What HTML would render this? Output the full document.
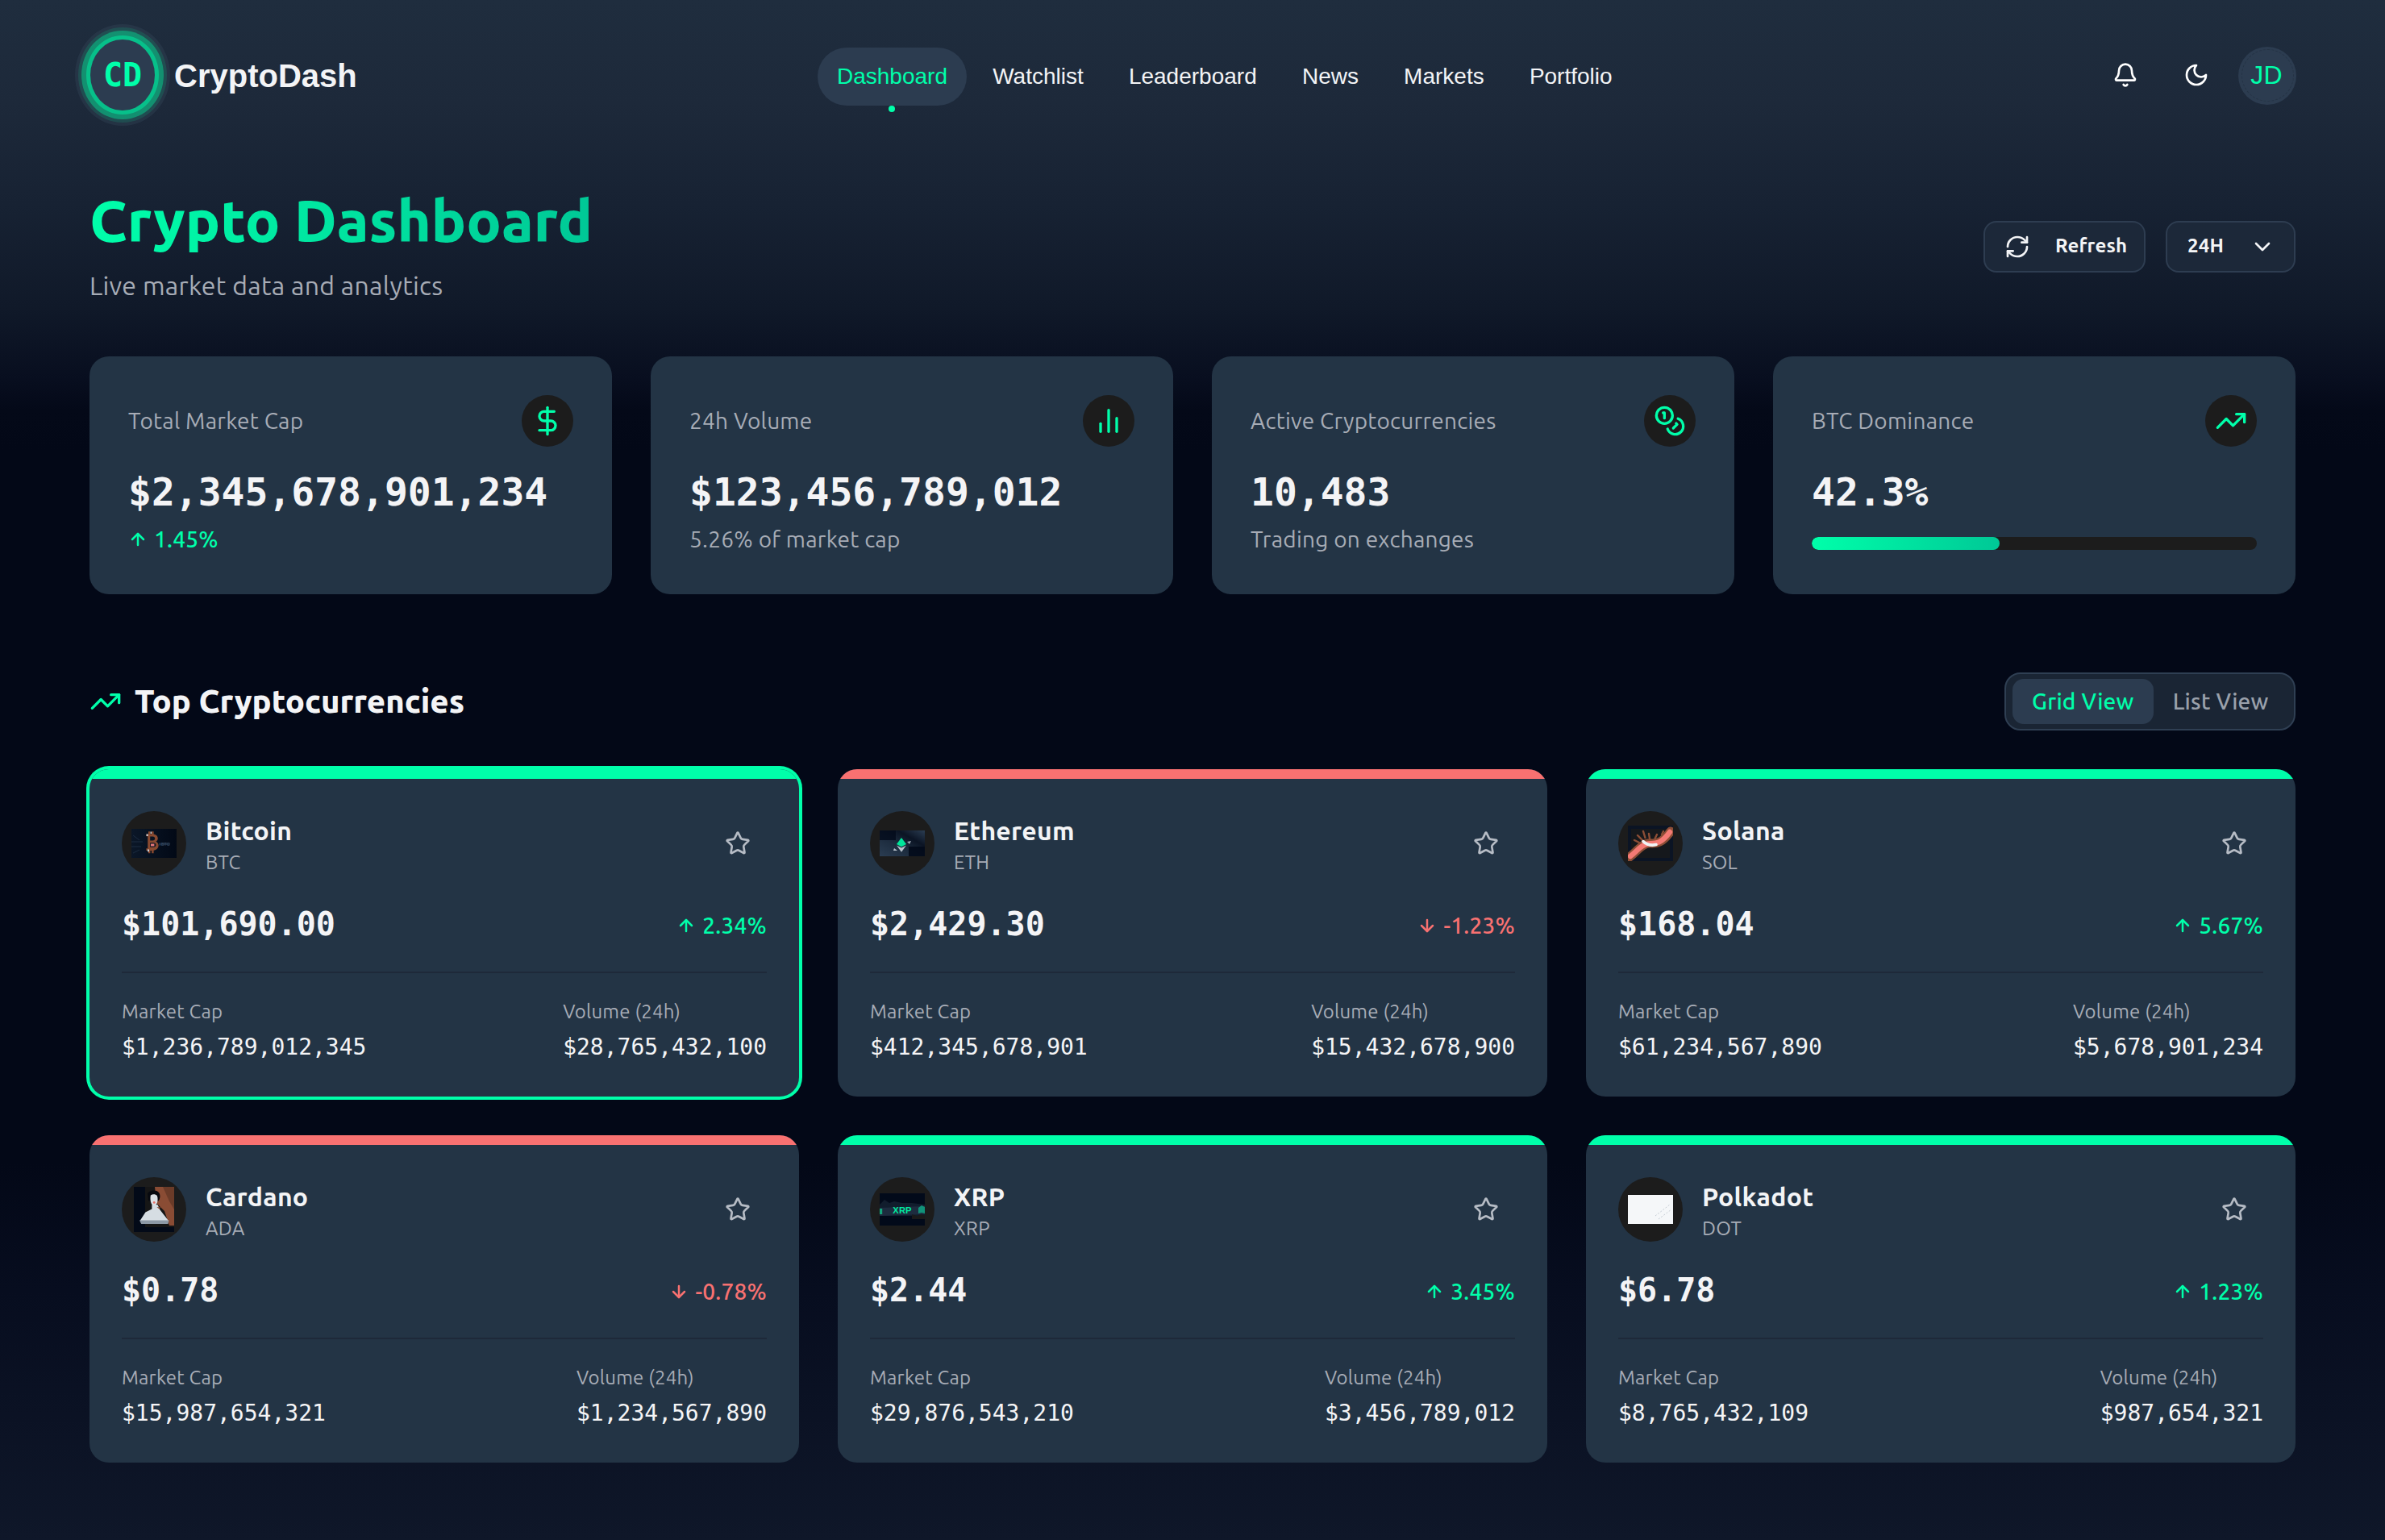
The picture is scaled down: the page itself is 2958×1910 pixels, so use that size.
<!DOCTYPE html>
<html lang="en">
<head>
<meta charset="utf-8">
<title>CryptoDash</title>
<style>
*{box-sizing:border-box;margin:0;padding:0;letter-spacing:.0085em}
div,span,a{white-space:nowrap}
html,body{width:1479px;height:955px;overflow:hidden}
body{
  font-family:"Ubuntu","Liberation Sans",sans-serif;
  color:#f3f4f6;
  background:linear-gradient(180deg,#1f2d3e 0px,#1d293a 64px,#172233 127px,#101929 191px,#080e1f 235px,#040918 255px,#030817 280px,#030817 720px,#070d1f 800px,#0f1729 955px);
  position:relative;
}
.mono,.mono *{font-family:"DejaVu Sans Mono","Liberation Mono",monospace;letter-spacing:0}
.sans{font-family:"Liberation Sans",Arial,sans-serif;letter-spacing:0}
.val,.pr,.bv,.brand,.nav,.nav *,.avatar,.logo,.logo *{letter-spacing:0}
.abs{position:absolute}
svg.i{display:block;fill:none;stroke:currentColor;stroke-width:2;stroke-linecap:round;stroke-linejoin:round}

/* header */
.logo{position:absolute;left:56px;top:24.25px;width:40px;height:44.4px;border-radius:50%;background:#2c3c50;
  box-shadow:0 0 0 2.5px rgba(0,225,155,.6),0 0 0 5.5px rgba(0,245,160,.4),0 0 0 7.5px rgba(0,245,160,.13),0 0 0 9.5px rgba(70,90,110,.22);
  display:flex;align-items:center;justify-content:center;color:#00ffaa;letter-spacing:0}
.brand{position:absolute;left:108px;top:35px;font:700 20px "Liberation Sans",Arial,sans-serif;color:#f3f4f6;line-height:24px}
.nav{position:absolute;left:507px;top:29.25px;display:flex;gap:4.1px;font:400 14px "Liberation Sans",Arial,sans-serif}
.nav a{display:block;height:36px;line-height:36px;padding:0 12px;border-radius:18px;color:#f3f4f6;text-decoration:none;position:relative}
.nav a.on{background:#2c3c50;color:#00ffaa}
.nav a.on:after{content:"";position:absolute;left:50%;margin-left:-2px;bottom:-4px;width:4px;height:4px;border-radius:50%;background:#00ffaa}
.hbtn{position:absolute;top:28.5px;width:36px;height:36px;display:flex;align-items:center;justify-content:center;color:#fff}
.avatar{position:absolute;left:1388px;top:28.75px;width:36px;height:36px;border-radius:50%;background:#2c3c50;color:#00ffaa;
  display:flex;align-items:center;justify-content:center;font:400 16px "Liberation Sans",Arial,sans-serif}

.avatar .dash{position:absolute;left:1.75px;top:1.75px;right:1.75px;bottom:1.75px;border:.5px dashed rgba(15,25,38,.25);border-radius:50%}
/* title */
.title{position:absolute;left:55.5px;top:116.75px;font:800 36px/40px "Ubuntu",sans-serif;letter-spacing:0;
  background:linear-gradient(90deg,#00ffaa,#00c896);-webkit-background-clip:text;background-clip:text;color:transparent}
.subtitle{position:absolute;left:55.5px;top:165px;font:400 16px/24px "Ubuntu",sans-serif;color:#a7acb6}
.btn{position:absolute;top:137px;height:32px;border:1px solid #2e3d51;border-radius:8px;background:#1c2839;
  display:flex;align-items:center;color:#f3f4f6;font:600 12px "Ubuntu",sans-serif}

/* stat cards */
.stat{position:absolute;top:221px;width:324px;height:147.5px;border-radius:12px;background:#233445;padding:24px}
.stat .lab{position:absolute;left:24px;top:251px;font:400 14px/20px "Ubuntu",sans-serif;color:#a7acb6}
.stat .ic{position:absolute;right:24px;top:24px;width:32px;height:32px;border-radius:50%;background:#1c1c1c;display:flex;align-items:center;justify-content:center;color:#00ffaa}
.stat .val{position:absolute;left:24px;top:68px;font:700 24px/32px "DejaVu Sans Mono",monospace;color:#f4f4f6}
.stat .sub{position:absolute;left:24px;top:103.5px;font:400 14px/20px "Ubuntu",sans-serif;color:#a7acb6;display:flex;align-items:center;gap:4px}
.stat .sub.up{color:#00ffaa;font-weight:500}
.up{color:#00ffaa}.down{color:#f87171}

/* section */
.sec{position:absolute;left:55.5px;top:421px;display:flex;align-items:center;gap:8px;font:800 20px/28px "Ubuntu",sans-serif;color:#f3f4f6;letter-spacing:0}
.sec span{letter-spacing:0}
.toggle{position:absolute;left:1243px;top:417.2px;width:180.5px;height:35.7px;border:1px solid #2f3f53;border-radius:10px;background:#1a2534;padding:3px 4px;display:flex;gap:0}
.toggle div{flex-shrink:0;height:28px;line-height:28px;padding:0 12px;border-radius:7px;font-weight:500;font-size:14px;color:#9aa1ab}
.toggle div.on{background:#2c3c50;color:#00ffaa}

/* coin cards */
.card{position:absolute;width:440px;height:203px;border-radius:12px;background:#233445;overflow:hidden}
.card.sel{box-shadow:0 0 0 2px #00ffaa}
.card .bar{position:absolute;left:0;top:0;right:0;height:6px}
.card.g .bar{background:#00ffaa}.card.r .bar{background:#f87171}
.card .av{position:absolute;left:20px;top:26px;width:40px;height:40px;border-radius:50%;background:#1c1c1c;overflow:hidden;display:flex;align-items:center;justify-content:center}
.card .nm{position:absolute;left:72px;top:26px;font:700 16px/24px "Ubuntu",sans-serif;color:#f3f4f6}
.card .sy{position:absolute;left:72px;top:50px;font:400 12px/16px "Ubuntu",sans-serif;color:#a7acb6}
.card .star{position:absolute;right:30px;top:38px;color:#b6bcc5}
.card .pr{position:absolute;left:20px;top:81.75px;font:700 20px/28px "DejaVu Sans Mono",monospace;color:#f4f4f6}
.card .ch{position:absolute;right:20px;top:87px;font:500 14px/20px "Ubuntu",sans-serif;display:flex;align-items:center;gap:4px}
.card .dv{position:absolute;left:20px;right:20px;top:125.5px;height:1px;background:#1e2939}
.card .bl{position:absolute;top:142.5px;font:400 12px/16px "Ubuntu",sans-serif;color:#a7acb6}
.card .bv{position:absolute;top:162.5px;font:400 14px/20px "DejaVu Sans Mono",monospace;color:#f4f4f6}
.card .c1{left:20px}
.card .c2{right:20px}
.card .col2{position:absolute;right:20px;top:142.5px}
.card .col2 .bl,.card .col2 .bv{position:static;display:block}
.card .col2 .bv{margin-top:4px}
@media (min-width:2000px){html{zoom:2}}
</style>
</head>
<body>

<!-- HEADER -->
<div class="logo"><span class="mono" style="font-weight:700;font-size:20px">CD</span></div>
<div class="brand">CryptoDash</div>
<nav class="nav">
  <a class="on">Dashboard</a>
  <a>Watchlist</a>
  <a>Leaderboard</a>
  <a>News</a>
  <a>Markets</a>
  <a>Portfolio</a>
</nav>
<div class="hbtn" style="left:1300px">
  <svg class="i" width="16" height="16" viewBox="0 0 24 24"><path d="M10.268 21a2 2 0 0 0 3.464 0"/><path d="M3.262 15.326A1 1 0 0 0 4 17h16a1 1 0 0 0 .74-1.673C19.41 13.956 18 12.499 18 8A6 6 0 0 0 6 8c0 4.499-1.411 5.956-2.738 7.326"/></svg>
</div>
<div class="hbtn" style="left:1344px">
  <svg class="i" width="16" height="16" viewBox="0 0 24 24"><path d="M12 3a6 6 0 0 0 9 9 9 9 0 1 1-9-9Z"/></svg>
</div>
<div class="avatar"><i class="dash"></i><span style="margin-left:-1px">JD</span></div>

<!-- TITLE -->
<div class="title">Crypto Dashboard</div>
<div class="subtitle">Live market data and analytics</div>
<div class="btn" style="left:1230px;width:100.5px;padding-left:12px">
  <svg class="i" width="16" height="16" viewBox="0 0 24 24"><path d="M3 12a9 9 0 0 1 9-9 9.75 9.75 0 0 1 6.74 2.74L21 8"/><path d="M21 3v5h-5"/><path d="M21 12a9 9 0 0 1-9 9 9.75 9.75 0 0 1-6.74-2.74L3 16"/><path d="M8 16H3v5"/></svg>
  <span style="margin-left:15.5px;position:relative;top:-0.8px">Refresh</span>
</div>
<div class="btn" style="left:1343px;width:80.7px;padding-left:12.5px">
  <span style="position:relative;top:-0.8px">24H</span>
  <svg class="i" width="16" height="16" viewBox="0 0 24 24" style="margin-left:16px"><path d="m6 9 6 6 6-6"/></svg>
</div>

<!-- STAT CARDS -->
<div class="stat" style="left:55.5px">
  <div class="lab" style="top:30px">Total Market Cap</div>
  <div class="ic"><svg class="i" width="20" height="20" viewBox="0 0 24 24"><line x1="12" x2="12" y1="2" y2="22"/><path d="M17 5H9.5a3.5 3.5 0 0 0 0 7h5a3.5 3.5 0 0 1 0 7H6"/></svg></div>
  <div class="val">$2,345,678,901,234</div>
  <div class="sub up"><svg class="i" width="12" height="12" viewBox="0 0 24 24" style="stroke-width:2.5"><path d="m5 12 7-7 7 7"/><path d="M12 19V5"/></svg><span>1.45%</span></div>
</div>
<div class="stat" style="left:403.5px">
  <div class="lab" style="top:30px">24h Volume</div>
  <div class="ic"><svg class="i" width="20" height="20" viewBox="0 0 24 24"><line x1="18" x2="18" y1="20" y2="10"/><line x1="12" x2="12" y1="20" y2="4"/><line x1="6" x2="6" y1="20" y2="14"/></svg></div>
  <div class="val">$123,456,789,012</div>
  <div class="sub">5.26% of market cap</div>
</div>
<div class="stat" style="left:751.5px">
  <div class="lab" style="top:30px">Active Cryptocurrencies</div>
  <div class="ic"><svg class="i" width="20" height="20" viewBox="0 0 24 24"><circle cx="8" cy="8" r="6"/><path d="M18.09 10.37A6 6 0 1 1 10.34 18"/><path d="M7 6h1v4"/><path d="m16.71 13.88.7.71-2.82 2.82"/></svg></div>
  <div class="val">10,483</div>
  <div class="sub">Trading on exchanges</div>
</div>
<div class="stat" style="left:1099.5px">
  <div class="lab" style="top:30px">BTC Dominance</div>
  <div class="ic"><svg class="i" width="20" height="20" viewBox="0 0 24 24"><polyline points="22 7 13.5 15.5 8.5 10.5 2 17"/><polyline points="16 7 22 7 22 13"/></svg></div>
  <div class="val">42.3%</div>
  <div class="abs" style="left:24px;top:112px;width:276px;height:8px;border-radius:4px;background:#1c1c1c;overflow:hidden">
    <div style="width:42.3%;height:100%;border-radius:4px;background:linear-gradient(90deg,#00ffaa,#00c896)"></div>
  </div>
</div>

<!-- SECTION HEADER -->
<div class="sec">
  <svg class="i" width="20" height="20" viewBox="0 0 24 24" style="color:#00ffaa"><polyline points="22 7 13.5 15.5 8.5 10.5 2 17"/><polyline points="16 7 22 7 22 13"/></svg>
  <span>Top Cryptocurrencies</span>
</div>
<div class="toggle"><div class="on">Grid View</div><div>List View</div></div>

<!-- COIN CARDS -->
<!--CARDS-->
<div class="card g sel" style="left:55.5px;top:477px">
  <div class="bar"></div>
  <div class="av"><svg width="28" height="18" viewBox="0 0 28 18"><defs><linearGradient id="gb" x1="0" x2="1"><stop offset="0" stop-color="#0b1728"/><stop offset=".5" stop-color="#06101f"/><stop offset="1" stop-color="#020916"/></linearGradient></defs><rect width="28" height="18" fill="url(#gb)"/><path d="M0 8h7M0 11h6M1 4l4 3M1 15l4-2" stroke="#1c2c40" stroke-width=".5"/><path d="M9.2 3.2h1.3V1.6h1.2v1.6h.9V1.6h1.2v1.7c1.6.3 2.6 1.3 2.6 2.6 0 .9-.5 1.6-1.2 2 1 .4 1.6 1.3 1.6 2.4 0 1.7-1.3 2.9-3 3.1v1.7h-1.2v-1.6h-.9v1.6h-1.2v-1.6H9.2v-1.4h.9V4.6h-.9z" fill="#8a4a30"/><path d="M11.6 4.8h1.6c.9 0 1.4.5 1.4 1.2s-.5 1.2-1.4 1.2h-1.6zM11.6 8.6h2c1 0 1.6.6 1.6 1.4s-.6 1.4-1.6 1.4h-2z" fill="#0a1322"/><path d="M12 9.2h2.2v1.6H12z" fill="#e8787a"/><path d="M9.3 3.3h1v1.2h-1zM10 12.7h1v1.4h-1zM11.8 1.7h.7v1.3h-.7z" fill="#c8d0d8"/><path d="M17 9.5c2 0 5-.4 7 0" stroke="#2a3d55" stroke-width="1.4" opacity=".7"/><text x="18.5" y="10.6" font-size="2.6" fill="#3a4e66" font-family="Liberation Sans,sans-serif">BTC</text></svg></div>
  <div class="nm">Bitcoin</div>
  <div class="sy">BTC</div>
  <div class="star"><svg class="i" width="16" height="16" viewBox="0 0 24 24"><path d="M11.525 2.295a.53.53 0 0 1 .95 0l2.31 4.679a2.123 2.123 0 0 0 1.595 1.16l5.166.756a.53.53 0 0 1 .294.904l-3.736 3.638a2.123 2.123 0 0 0-.611 1.878l.882 5.14a.53.53 0 0 1-.771.56l-4.618-2.428a2.122 2.122 0 0 0-1.973 0L6.396 21.01a.53.53 0 0 1-.77-.56l.881-5.139a2.122 2.122 0 0 0-.611-1.879L2.16 9.795a.53.53 0 0 1 .294-.906l5.165-.755a2.122 2.122 0 0 0 1.597-1.16z"/></svg></div>
  <div class="pr">$101,690.00</div>
  <div class="ch up"><svg class="i" width="12" height="12" viewBox="0 0 24 24" style="stroke-width:2.5"><path d="m5 12 7-7 7 7"/><path d="M12 19V5"/></svg><span>2.34%</span></div>
  <div class="dv"></div>
  <div class="bl c1">Market Cap</div>
  <div class="bv c1">$1,236,789,012,345</div>
  <div class="col2"><div class="bl">Volume (24h)</div><div class="bv">$28,765,432,100</div></div>
</div>
<div class="card r" style="left:519.5px;top:477px">
  <div class="bar"></div>
  <div class="av"><svg width="28" height="16" viewBox="0 0 28 16"><defs><linearGradient id="ge" x1="0" y1="1" x2="1" y2="0"><stop offset="0" stop-color="#2b3d52"/><stop offset=".45" stop-color="#1b2a3c"/><stop offset=".7" stop-color="#0b1424"/><stop offset="1" stop-color="#2b3d52"/></linearGradient></defs><rect width="28" height="16" fill="url(#ge)"/><rect width="10" height="6" fill="#020a1a" opacity=".8"/><rect x="18" y="10" width="10" height="6" fill="#020a1a" opacity=".9"/><path d="M13.5 4.5l3 4-3 1.6-3-1.6z" fill="#00e59b"/><path d="M13.5 10.8l3-1.6-3 4.2-3-4.2z" fill="#b8c2cc"/><path d="M9 11l2 1.5-2.5 0z" fill="#b8c2cc"/><path d="M17 7l2.5-.5-1 2z" fill="#9aa6b2"/></svg></div>
  <div class="nm">Ethereum</div>
  <div class="sy">ETH</div>
  <div class="star"><svg class="i" width="16" height="16" viewBox="0 0 24 24"><path d="M11.525 2.295a.53.53 0 0 1 .95 0l2.31 4.679a2.123 2.123 0 0 0 1.595 1.16l5.166.756a.53.53 0 0 1 .294.904l-3.736 3.638a2.123 2.123 0 0 0-.611 1.878l.882 5.14a.53.53 0 0 1-.771.56l-4.618-2.428a2.122 2.122 0 0 0-1.973 0L6.396 21.01a.53.53 0 0 1-.77-.56l.881-5.139a2.122 2.122 0 0 0-.611-1.879L2.16 9.795a.53.53 0 0 1 .294-.906l5.165-.755a2.122 2.122 0 0 0 1.597-1.16z"/></svg></div>
  <div class="pr">$2,429.30</div>
  <div class="ch down"><svg class="i" width="12" height="12" viewBox="0 0 24 24" style="stroke-width:2.5"><path d="M12 5v14"/><path d="m19 12-7 7-7-7"/></svg><span>-1.23%</span></div>
  <div class="dv"></div>
  <div class="bl c1">Market Cap</div>
  <div class="bv c1">$412,345,678,901</div>
  <div class="col2"><div class="bl">Volume (24h)</div><div class="bv">$15,432,678,900</div></div>
</div>
<div class="card g" style="left:983.5px;top:477px">
  <div class="bar"></div>
  <div class="av"><svg width="28" height="22" viewBox="0 0 28 22"><rect width="28" height="22" fill="#0b1424"/><rect x="2" y="2" width="24" height="18" fill="#1a1a1a" opacity=".75"/><path d="M6 6l3 3M9.5 3.5l1.2 4M13 5l.5 3M18 5.5l-1.2 2.5M22 3.5l-1 2M4 9l3 1.5" stroke="#8c4e36" stroke-width="1.2" stroke-linecap="round"/><path d="M1 19.5C6 15.5 8.5 11.5 12.5 11S19.5 13 26.5 3.5" stroke="#8c4e36" stroke-width="5.5" fill="none" stroke-linecap="round"/><path d="M1.5 19C6.2 15.2 8.7 11.6 12.5 11.2S19.5 12.6 26 4" stroke="#f47a74" stroke-width="3.2" fill="none" stroke-linecap="round"/><path d="M9.5 9.8c1.8 1.7 4.4 2.8 8 2" stroke="#eef4f6" stroke-width="1.8" fill="none" stroke-linecap="round"/></svg></div>
  <div class="nm">Solana</div>
  <div class="sy">SOL</div>
  <div class="star"><svg class="i" width="16" height="16" viewBox="0 0 24 24"><path d="M11.525 2.295a.53.53 0 0 1 .95 0l2.31 4.679a2.123 2.123 0 0 0 1.595 1.16l5.166.756a.53.53 0 0 1 .294.904l-3.736 3.638a2.123 2.123 0 0 0-.611 1.878l.882 5.14a.53.53 0 0 1-.771.56l-4.618-2.428a2.122 2.122 0 0 0-1.973 0L6.396 21.01a.53.53 0 0 1-.77-.56l.881-5.139a2.122 2.122 0 0 0-.611-1.879L2.16 9.795a.53.53 0 0 1 .294-.906l5.165-.755a2.122 2.122 0 0 0 1.597-1.16z"/></svg></div>
  <div class="pr">$168.04</div>
  <div class="ch up"><svg class="i" width="12" height="12" viewBox="0 0 24 24" style="stroke-width:2.5"><path d="m5 12 7-7 7 7"/><path d="M12 19V5"/></svg><span>5.67%</span></div>
  <div class="dv"></div>
  <div class="bl c1">Market Cap</div>
  <div class="bv c1">$61,234,567,890</div>
  <div class="col2"><div class="bl">Volume (24h)</div><div class="bv">$5,678,901,234</div></div>
</div>
<div class="card r" style="left:55.5px;top:704px">
  <div class="bar"></div>
  <div class="av"><svg width="25" height="28" viewBox="0 0 25 28"><rect width="25" height="28" fill="#161616"/><rect width="7" height="28" fill="#030a18"/><rect x="0" y="25" width="25" height="3" fill="#030a18"/><path d="M13 0h12v24h-3l-3-9-5-5z" fill="#8a4c34"/><path d="M18 0h7v14l-3-5z" fill="#5e3424" opacity=".7"/><path d="M8.5 4c1.5-2 5.5-2.5 7-.5 1.2 1.6.8 4.2-.3 5.2L9 8.6z" fill="#07090f"/><path d="M10.4 5.2c1.2-.9 3.2-.8 4 .3.6 1.4.5 3.6-.2 5-.8 1.1-2.5 1.1-3.3 0-.7-1.4-.8-3.7-.5-5.3z" fill="#dbe1e6"/><path d="M11.2 10.8l3.6.3 1.4 3.2 5.3 6.7H3.8l3.4-5.2 4-2z" fill="#d6dde3"/><path d="M3.5 20.8h18.3l-.6 2.2H4.6z" fill="#8d99a6"/><circle cx="12.6" cy="9.7" r=".7" fill="#e8726a"/><path d="M14.2 12.5l1.5 1.2 1-1z" fill="#8a4c34"/></svg></div>
  <div class="nm">Cardano</div>
  <div class="sy">ADA</div>
  <div class="star"><svg class="i" width="16" height="16" viewBox="0 0 24 24"><path d="M11.525 2.295a.53.53 0 0 1 .95 0l2.31 4.679a2.123 2.123 0 0 0 1.595 1.16l5.166.756a.53.53 0 0 1 .294.904l-3.736 3.638a2.123 2.123 0 0 0-.611 1.878l.882 5.14a.53.53 0 0 1-.771.56l-4.618-2.428a2.122 2.122 0 0 0-1.973 0L6.396 21.01a.53.53 0 0 1-.77-.56l.881-5.139a2.122 2.122 0 0 0-.611-1.879L2.16 9.795a.53.53 0 0 1 .294-.906l5.165-.755a2.122 2.122 0 0 0 1.597-1.16z"/></svg></div>
  <div class="pr">$0.78</div>
  <div class="ch down"><svg class="i" width="12" height="12" viewBox="0 0 24 24" style="stroke-width:2.5"><path d="M12 5v14"/><path d="m19 12-7 7-7-7"/></svg><span>-0.78%</span></div>
  <div class="dv"></div>
  <div class="bl c1">Market Cap</div>
  <div class="bv c1">$15,987,654,321</div>
  <div class="col2"><div class="bl">Volume (24h)</div><div class="bv">$1,234,567,890</div></div>
</div>
<div class="card g" style="left:519.5px;top:704px">
  <div class="bar"></div>
  <div class="av"><svg width="28" height="20" viewBox="0 0 28 20"><rect width="28" height="20" fill="#020a1a"/><path d="M0 7l3-3 3 2 3-1 5 1 6 0 8 1v7H0z" fill="#111d2d"/><path d="M0 9l28-1v5l-28 1z" fill="#1d2c3f"/><path d="M0 9.5h1.6v3.5H0z" fill="#14a67c"/><path d="M24 9l2-1.5 2 1v4l-2-.5-2 .5z" fill="#11937a"/><path d="M20 13l3 1 3-1 2 1v2H20z" fill="#1a1a1a"/><text x="14" y="12.4" text-anchor="middle" font-size="5.6" font-weight="700" fill="#00eaa0" font-family="Liberation Sans,sans-serif" letter-spacing=".1">XRP</text></svg></div>
  <div class="nm">XRP</div>
  <div class="sy">XRP</div>
  <div class="star"><svg class="i" width="16" height="16" viewBox="0 0 24 24"><path d="M11.525 2.295a.53.53 0 0 1 .95 0l2.31 4.679a2.123 2.123 0 0 0 1.595 1.16l5.166.756a.53.53 0 0 1 .294.904l-3.736 3.638a2.123 2.123 0 0 0-.611 1.878l.882 5.14a.53.53 0 0 1-.771.56l-4.618-2.428a2.122 2.122 0 0 0-1.973 0L6.396 21.01a.53.53 0 0 1-.77-.56l.881-5.139a2.122 2.122 0 0 0-.611-1.879L2.16 9.795a.53.53 0 0 1 .294-.906l5.165-.755a2.122 2.122 0 0 0 1.597-1.16z"/></svg></div>
  <div class="pr">$2.44</div>
  <div class="ch up"><svg class="i" width="12" height="12" viewBox="0 0 24 24" style="stroke-width:2.5"><path d="m5 12 7-7 7 7"/><path d="M12 19V5"/></svg><span>3.45%</span></div>
  <div class="dv"></div>
  <div class="bl c1">Market Cap</div>
  <div class="bv c1">$29,876,543,210</div>
  <div class="col2"><div class="bl">Volume (24h)</div><div class="bv">$3,456,789,012</div></div>
</div>
<div class="card g" style="left:983.5px;top:704px">
  <div class="bar"></div>
  <div class="av"><svg width="28" height="18" viewBox="0 0 28 18"><rect width="28" height="18" fill="#f5f7f9"/><path d="M17 13l9-7M19 15l8-6" stroke="#c5ccd4" stroke-width=".5" stroke-dasharray="1 1"/></svg></div>
  <div class="nm">Polkadot</div>
  <div class="sy">DOT</div>
  <div class="star"><svg class="i" width="16" height="16" viewBox="0 0 24 24"><path d="M11.525 2.295a.53.53 0 0 1 .95 0l2.31 4.679a2.123 2.123 0 0 0 1.595 1.16l5.166.756a.53.53 0 0 1 .294.904l-3.736 3.638a2.123 2.123 0 0 0-.611 1.878l.882 5.14a.53.53 0 0 1-.771.56l-4.618-2.428a2.122 2.122 0 0 0-1.973 0L6.396 21.01a.53.53 0 0 1-.77-.56l.881-5.139a2.122 2.122 0 0 0-.611-1.879L2.16 9.795a.53.53 0 0 1 .294-.906l5.165-.755a2.122 2.122 0 0 0 1.597-1.16z"/></svg></div>
  <div class="pr">$6.78</div>
  <div class="ch up"><svg class="i" width="12" height="12" viewBox="0 0 24 24" style="stroke-width:2.5"><path d="m5 12 7-7 7 7"/><path d="M12 19V5"/></svg><span>1.23%</span></div>
  <div class="dv"></div>
  <div class="bl c1">Market Cap</div>
  <div class="bv c1">$8,765,432,109</div>
  <div class="col2"><div class="bl">Volume (24h)</div><div class="bv">$987,654,321</div></div>
</div>
<!--/CARDS-->

</body>
</html>
